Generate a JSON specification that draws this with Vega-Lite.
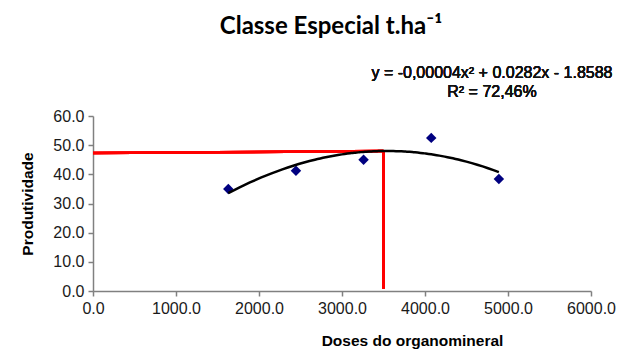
{
  "$schema": "https://vega.github.io/schema/vega-lite/v6.json",
  "width": 498,
  "height": 175,
  "autosize": {"type": "none"},
  "padding": {"left": 93, "top": 116, "right": 33, "bottom": 61},
  "background": "white",
  "title": {
    "text": "Classe Especial t.ha⁻¹",
    "font": "Lato",
    "fontSize": 24,
    "fontWeight": "bold",
    "color": "#000000",
    "anchor": "middle",
    "frame": "group",
    "dx": -11,
    "offset": 26
  },
  "config": {
    "view": {"stroke": null},
    "axis": {
      "grid": false,
      "domainColor": "#808080",
      "domainWidth": 1.5,
      "tickColor": "#808080",
      "tickWidth": 1.5,
      "tickSize": 5,
      "labelFont": "Liberation Sans",
      "labelFontSize": 16,
      "labelColor": "#1a1a1a",
      "labelOverlap": false,
      "labelFlush": false,
      "labelBound": false,
      "titleFont": "Liberation Sans",
      "titleFontSize": 15.5,
      "titleFontWeight": "bold",
      "titleColor": "#000000"
    }
  },
  "data": {
    "values": [
      {"dose": 1630, "prod": 35.0},
      {"dose": 2445, "prod": 41.2},
      {"dose": 3260, "prod": 45.0},
      {"dose": 4075, "prod": 52.5},
      {"dose": 4890, "prod": 38.4}
    ]
  },
  "encoding": {
    "x": {
      "field": "dose",
      "type": "quantitative",
      "scale": {"domain": [0, 6000], "nice": false, "zero": true},
      "axis": {
        "values": [0, 1000, 2000, 3000, 4000, 5000, 6000],
        "format": ".1f",
        "labelPadding": 4,
        "title": "Doses do organomineral",
        "titleX": 319,
        "titleAlign": "center",
        "titlePadding": 17
      }
    },
    "y": {
      "field": "prod",
      "type": "quantitative",
      "scale": {"domain": [0, 60], "nice": false},
      "axis": {
        "values": [0, 10, 20, 30, 40, 50, 60],
        "format": ".1f",
        "labelPadding": 4,
        "title": "Produtividade",
        "titlePadding": 17
      }
    }
  },
  "layer": [
    {
      "mark": {"type": "point", "shape": "diamond", "filled": true, "color": "#000080", "size": 110, "opacity": 1}
    },
    {
      "mark": {"type": "rule", "color": "#ff0000", "strokeWidth": 2.5},
      "encoding": {
        "x": {"datum": 0, "type": "quantitative"},
        "x2": {"datum": 3500},
        "y": {"datum": 47.3, "type": "quantitative"},
        "y2": {"datum": 48.0}
      }
    },
    {
      "mark": {"type": "rule", "color": "#ff0000", "strokeWidth": 2.5},
      "encoding": {
        "x": {"datum": 3500, "type": "quantitative"},
        "y": {"datum": 0.8, "type": "quantitative"},
        "y2": {"datum": 48.0}
      }
    },
    {
      "transform": [
        {"regression": "prod", "on": "dose", "method": "poly", "order": 2, "extent": [1630, 4890]}
      ],
      "mark": {"type": "line", "color": "#000000", "strokeWidth": 2.5}
    },
    {
      "mark": {
        "type": "text",
        "text": ["y = -0,00004x² + 0.0282x - 1.8588", "R² = 72,46%"],
        "font": "Liberation Sans",
        "fontSize": 16,
        "fontWeight": 400,
        "align": "center",
        "baseline": "alphabetic",
        "lineHeight": 19,
        "color": "#111111"
      },
      "encoding": {
        "x": {"datum": 4807, "type": "quantitative"},
        "y": {"datum": 73.0, "type": "quantitative"}
      }
    }
  ]
}
